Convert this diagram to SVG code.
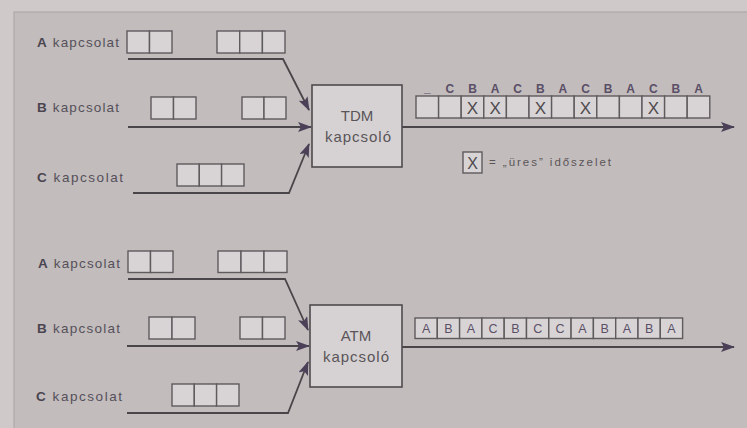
<svg xmlns="http://www.w3.org/2000/svg" width="747" height="428" viewBox="0 0 747 428">
<defs>
<style>
.cell{fill:#d8d4d6;stroke:#5f5a5d;stroke-width:1.4}
.box{fill:#d6d2d4;stroke:#4f4a4d;stroke-width:1.6}
.line{fill:none;stroke:#4a4548;stroke-width:1.8}
.lbl{font-family:"Liberation Sans",Arial,sans-serif;font-size:13.5px;fill:#55505a}
.lblb{font-weight:bold;fill:#4a4550}
.sw{font-family:"Liberation Sans",Arial,sans-serif;font-size:15px;fill:#5a5558;text-anchor:middle}
.tl{font-family:"Liberation Sans",Arial,sans-serif;font-size:12px;font-weight:bold;fill:#5a4f66;text-anchor:middle}
.cl{font-family:"Liberation Sans",Arial,sans-serif;font-size:12.5px;fill:#5a4f66;text-anchor:middle}
.x{font-family:"Liberation Sans",Arial,sans-serif;font-size:17px;fill:#4f4a4d;text-anchor:middle}
.leg{font-family:"Liberation Sans",Arial,sans-serif;font-size:11.5px;fill:#5a5558}
</style>
<marker id="ah" markerUnits="userSpaceOnUse" markerWidth="14" markerHeight="10" refX="13" refY="5" orient="auto">
<path d="M0,0 L14,5 L0,10 L3,5 Z" fill="#4b4058"/>
</marker>
</defs>
<rect x="0" y="0" width="747" height="428" fill="#cfc9c9"/>
<rect x="14" y="12" width="740" height="420" fill="#c2bcbc" stroke="#a9a4a6" stroke-width="1"/>

<g id="connectors">
<path class="line" d="M128 59 H283 L309 110" marker-end="url(#ah)"/>
<path class="line" d="M128 127 H311" marker-end="url(#ah)"/>
<path class="line" d="M133 193 H289 L309 144" marker-end="url(#ah)"/>
<path class="line" d="M402 127 H734" marker-end="url(#ah)"/>
<path class="line" d="M128 279 H285 L308 330" marker-end="url(#ah)"/>
<path class="line" d="M127 346 H309" marker-end="url(#ah)"/>
<path class="line" d="M127 413 H288 L308 362" marker-end="url(#ah)"/>
<path class="line" d="M402 347 H734" marker-end="url(#ah)"/>
</g>

<g id="tdm-a">
<text class="lbl" x="37" y="47" textLength="82" lengthAdjust="spacing"><tspan class="lblb">A</tspan> kapcsolat</text>
<rect class="cell" x="127" y="31" width="22.5" height="22"/><rect class="cell" x="149.5" y="31" width="22.5" height="22"/>
<rect class="cell" x="217" y="31" width="22.7" height="22"/><rect class="cell" x="239.7" y="31" width="22.7" height="22"/><rect class="cell" x="262.4" y="31" width="22.6" height="22"/>
</g>
<g id="tdm-b">
<text class="lbl" x="37" y="112" textLength="82" lengthAdjust="spacing"><tspan class="lblb">B</tspan> kapcsolat</text>
<rect class="cell" x="151" y="97" width="22.5" height="22"/><rect class="cell" x="173.5" y="97" width="22.5" height="22"/>
<rect class="cell" x="242" y="97" width="22" height="22"/><rect class="cell" x="264" y="97" width="22" height="22"/>
</g>
<g id="tdm-c">
<text class="lbl" x="37" y="182" textLength="86" lengthAdjust="spacing"><tspan class="lblb">C</tspan> kapcsolat</text>
<rect class="cell" x="177" y="164" width="22.3" height="22"/><rect class="cell" x="199.3" y="164" width="22.3" height="22"/><rect class="cell" x="221.6" y="164" width="22.4" height="22"/>
</g>

<g id="tdm-switch">
<rect class="box" x="312" y="85" width="90" height="82"/>
<text class="sw" x="357" y="121">TDM</text>
<text class="sw" x="358" y="142" textLength="66" lengthAdjust="spacing">kapcsoló</text>
</g>

<g id="tdm-frames">
<g>
<rect class="cell" x="416" y="96" width="22.6" height="22"/>
<rect class="cell" x="438.6" y="96" width="22.6" height="22"/>
<rect class="cell" x="461.2" y="96" width="22.6" height="22"/>
<rect class="cell" x="483.8" y="96" width="22.6" height="22"/>
<rect class="cell" x="506.4" y="96" width="22.6" height="22"/>
<rect class="cell" x="529" y="96" width="22.6" height="22"/>
<rect class="cell" x="551.6" y="96" width="22.6" height="22"/>
<rect class="cell" x="574.2" y="96" width="22.6" height="22"/>
<rect class="cell" x="596.8" y="96" width="22.6" height="22"/>
<rect class="cell" x="619.4" y="96" width="22.6" height="22"/>
<rect class="cell" x="642" y="96" width="22.6" height="22"/>
<rect class="cell" x="664.6" y="96" width="22.6" height="22"/>
<rect class="cell" x="687.2" y="96" width="22.6" height="22"/>
</g>
<text class="x" x="472.5" y="114">X</text>
<text class="x" x="495.1" y="114">X</text>
<text class="x" x="540.3" y="114">X</text>
<text class="x" x="585.5" y="114">X</text>
<text class="x" x="653.3" y="114">X</text>
<text class="tl" x="427.3" y="92">_</text>
<text class="tl" x="449.9" y="93">C</text>
<text class="tl" x="472.5" y="93">B</text>
<text class="tl" x="495.1" y="93">A</text>
<text class="tl" x="517.7" y="93">C</text>
<text class="tl" x="540.3" y="93">B</text>
<text class="tl" x="562.9" y="93">A</text>
<text class="tl" x="585.5" y="93">C</text>
<text class="tl" x="608.1" y="93">B</text>
<text class="tl" x="630.7" y="93">A</text>
<text class="tl" x="653.3" y="93">C</text>
<text class="tl" x="675.9" y="93">B</text>
<text class="tl" x="698.5" y="93">A</text>
</g>

<g id="legend">
<rect class="cell" x="463" y="152" width="19" height="21"/>
<text class="x" x="472.5" y="169" style="font-size:16px">X</text>
<text class="leg" x="489" y="166" textLength="122" lengthAdjust="spacing">= „üres” időszelet</text>
</g>

<g id="atm-a">
<text class="lbl" x="38" y="268" textLength="82" lengthAdjust="spacing"><tspan class="lblb">A</tspan> kapcsolat</text>
<rect class="cell" x="128" y="251" width="22.5" height="21.5"/><rect class="cell" x="150.5" y="251" width="22.5" height="21.5"/>
<rect class="cell" x="218" y="251" width="23" height="21.5"/><rect class="cell" x="241" y="251" width="23" height="21.5"/><rect class="cell" x="264" y="251" width="23" height="21.5"/>
</g>
<g id="atm-b">
<text class="lbl" x="37" y="333" textLength="83" lengthAdjust="spacing"><tspan class="lblb">B</tspan> kapcsolat</text>
<rect class="cell" x="149" y="317" width="23" height="22"/><rect class="cell" x="172" y="317" width="23" height="22"/>
<rect class="cell" x="240" y="317" width="22.5" height="22"/><rect class="cell" x="262.5" y="317" width="22.5" height="22"/>
</g>
<g id="atm-c">
<text class="lbl" x="36" y="401" textLength="86" lengthAdjust="spacing"><tspan class="lblb">C</tspan> kapcsolat</text>
<rect class="cell" x="172" y="384" width="22.3" height="22"/><rect class="cell" x="194.3" y="384" width="22.3" height="22"/><rect class="cell" x="216.6" y="384" width="22.4" height="22"/>
</g>

<g id="atm-switch">
<rect class="box" x="310" y="305" width="92" height="82"/>
<text class="sw" x="356" y="341">ATM</text>
<text class="sw" x="356" y="362" textLength="66" lengthAdjust="spacing">kapcsoló</text>
</g>

<g id="atm-cells">
<rect class="cell" x="415" y="318" width="22.3" height="20.5"/>
<rect class="cell" x="437.3" y="318" width="22.3" height="20.5"/>
<rect class="cell" x="459.6" y="318" width="22.3" height="20.5"/>
<rect class="cell" x="481.9" y="318" width="22.3" height="20.5"/>
<rect class="cell" x="504.2" y="318" width="22.3" height="20.5"/>
<rect class="cell" x="526.5" y="318" width="22.3" height="20.5"/>
<rect class="cell" x="548.8" y="318" width="22.3" height="20.5"/>
<rect class="cell" x="571.1" y="318" width="22.3" height="20.5"/>
<rect class="cell" x="593.4" y="318" width="22.3" height="20.5"/>
<rect class="cell" x="615.7" y="318" width="22.3" height="20.5"/>
<rect class="cell" x="638" y="318" width="22.3" height="20.5"/>
<rect class="cell" x="660.3" y="318" width="22.3" height="20.5"/>
<text class="cl" x="426.2" y="333">A</text>
<text class="cl" x="448.5" y="333">B</text>
<text class="cl" x="470.8" y="333">A</text>
<text class="cl" x="493.1" y="333">C</text>
<text class="cl" x="515.4" y="333">B</text>
<text class="cl" x="537.7" y="333">C</text>
<text class="cl" x="560" y="333">C</text>
<text class="cl" x="582.3" y="333">A</text>
<text class="cl" x="604.6" y="333">B</text>
<text class="cl" x="626.9" y="333">A</text>
<text class="cl" x="649.2" y="333">B</text>
<text class="cl" x="671.5" y="333">A</text>
</g>
</svg>
